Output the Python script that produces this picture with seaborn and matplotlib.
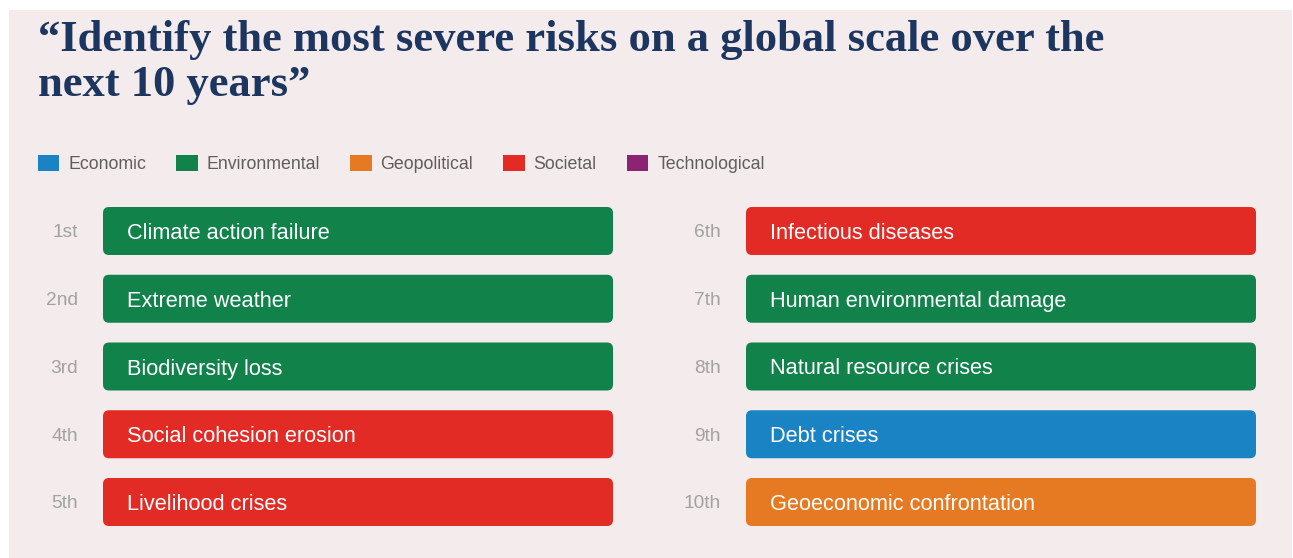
import matplotlib
matplotlib.use("Agg")
import matplotlib.pyplot as plt
import seaborn as sns
import pandas as pd
from matplotlib.patches import FancyBboxPatch, Patch, Rectangle

# ---------------- data ----------------
title = "\u201cIdentify the most severe risks on a global scale over the\nnext 10 years\u201d"
categories = ["Economic", "Environmental", "Geopolitical", "Societal", "Technological"]
category_colors = ["#1a83c3", "#12824b", "#e57a22", "#e22b25", "#8d2473"]

ranks_left = ["1st", "2nd", "3rd", "4th", "5th"]
risks_left = ["Climate action failure", "Extreme weather", "Biodiversity loss",
              "Social cohesion erosion", "Livelihood crises"]
cats_left = ["Environmental", "Environmental", "Environmental", "Societal", "Societal"]

ranks_right = ["6th", "7th", "8th", "9th", "10th"]
risks_right = ["Infectious diseases", "Human environmental damage", "Natural resource crises",
               "Debt crises", "Geoeconomic confrontation"]
cats_right = ["Societal", "Environmental", "Environmental", "Economic", "Geopolitical"]

bar_length = [1, 1, 1, 1, 1]

# ---------------- style ----------------
sns.set_theme(style="white")
plt.rcParams["font.family"] = ["Liberation Sans", "DejaVu Sans"]

W, H = 1293, 558
fig = plt.figure(figsize=(W / 100, H / 100), dpi=100, facecolor="white")
fig.patches.append(Rectangle((9 / W, 0), (1292 - 9) / W, (H - 10) / H,
                             transform=fig.transFigure, facecolor="#f4ebec",
                             edgecolor="none", zorder=-5))

palette = dict(zip(categories, category_colors))

# title, fitted to the reference width
t = fig.text(38 / W, 1 - 20 / H, title, ha="left", va="top", fontsize=28,
             family=["Liberation Serif", "DejaVu Serif"], fontweight="bold",
             color="#1d3660", linespacing=1.17)
r = fig.canvas.get_renderer()
first = fig.text(0, 0, title.split("\n")[0], fontsize=28,
                 family=["Liberation Serif", "DejaVu Serif"], fontweight="bold")
wpx = first.get_window_extent(renderer=r).width
first.remove()
t.set_fontsize(28 * 1070 / wpx)

# legend
handles = [Patch(facecolor=c, edgecolor="none", label=l) for l, c in zip(categories, category_colors)]
leg = fig.legend(handles=handles, loc="center left", bbox_to_anchor=(38 / W, 1 - 164 / H),
                 ncol=5, frameon=False, fontsize=12.8, handlelength=1.2, handleheight=1.05,
                 handletextpad=0.5, columnspacing=1.7, borderaxespad=0, borderpad=0)
for txt in leg.get_texts():
    txt.set_color("#5e5e5e")

pitch = 67.75
bar_px_w = 510
axes_top = 231 - pitch / 2
axes_h = pitch * 5


def draw_column(x_left, ranks, risks, cats):
    ax = fig.add_axes([x_left / W, 1 - (axes_top + axes_h) / H, bar_px_w / W, axes_h / H])
    df = pd.DataFrame({"risk": risks, "length": bar_length, "category": cats})
    sns.barplot(data=df, x="length", y="risk", hue="category", palette=palette,
                dodge=False, width=48 / pitch, legend=False, ax=ax, orient="h",
                saturation=1)
    ax.set_xlim(0, 1)
    ax.set_ylim(len(risks) - 0.5, -0.5)
    aspect = bar_px_w / pitch
    for p in list(ax.patches):
        x, y = p.get_x(), p.get_y()
        w, h = p.get_width(), p.get_height()
        fc = p.get_facecolor()
        p.remove()
        ax.add_patch(FancyBboxPatch((x, y), w, h,
                                    boxstyle=f"round,pad=0,rounding_size={6 / bar_px_w}",
                                    mutation_aspect=aspect, facecolor=fc, edgecolor="none"))
    ypos = ax.get_yticks()
    for yp, risk, rank in zip(ypos, risks, ranks):
        ax.text(24 / bar_px_w, yp, risk, ha="left", va="center_baseline", color="white",
                fontsize=15.7)
        ax.text(-25 / bar_px_w, yp, rank, ha="right", va="center_baseline", color="#a2a2a2",
                fontsize=13.8, clip_on=False)
    ax.axis("off")
    ax.set_facecolor("none")


draw_column(103, ranks_left, risks_left, cats_left)
draw_column(746, ranks_right, risks_right, cats_right)

fig.savefig("out.png", dpi=100, facecolor="white")
